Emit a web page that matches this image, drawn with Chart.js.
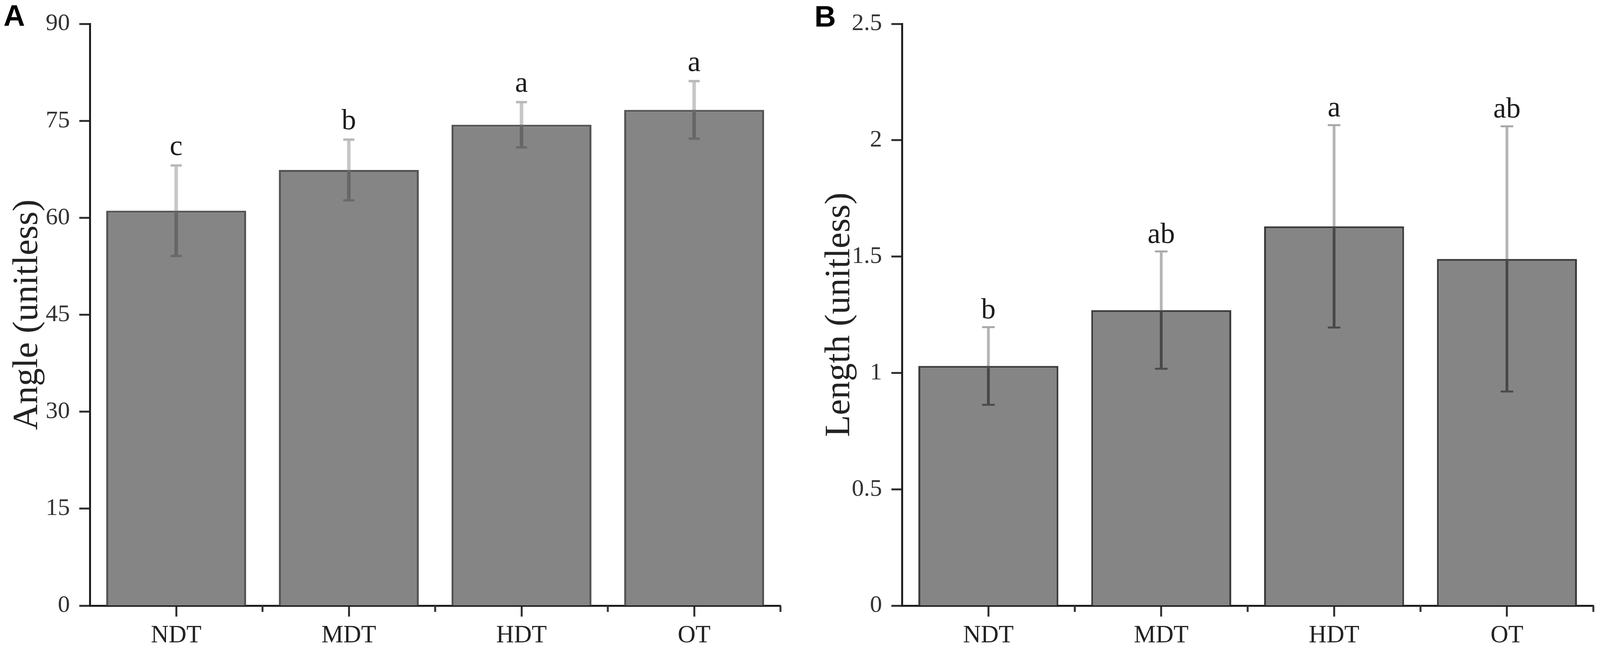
<!DOCTYPE html>
<html>
<head>
<meta charset="utf-8">
<script src="https://cdn.jsdelivr.net/npm/chart.js@4.4.1/dist/chart.umd.min.js"></script>
<style>
html,body{margin:0;padding:0;background:#fff;overflow:hidden}
canvas{position:absolute;top:0}
</style>
</head>
<body>
<canvas id="ca"></canvas>
<canvas id="cb"></canvas>
<script>
const categories = ['NDT', 'MDT', 'HDT', 'OT'];

const angleMeans   = [61.1, 67.4, 74.4, 76.7];
const angleErrors  = [7.0, 4.7, 3.5, 4.45];
const angleLetters = ['c', 'b', 'a', 'a'];
const angleTicks   = [0, 15, 30, 45, 60, 75, 90];

const lengthMeans   = [1.03, 1.27, 1.63, 1.49];
const lengthErrors  = [0.167, 0.252, 0.435, 0.57];
const lengthLetters = ['b', 'ab', 'a', 'ab'];
const lengthTicks   = [0, 0.5, 1, 1.5, 2, 2.5];

const SERIF = '"Liberation Serif", "Times New Roman", serif';

// layout designed for a 4317 px wide page, scaled to the actual viewport width
const W = Math.min(window.innerWidth || 4317, 4317);
const H = 1661;
const k = W / 4317;

const errorBarPlugin = {
  id: 'errbars',
  afterDatasetsDraw(chart, args, o) {
    const ctx = chart.ctx;
    const y = chart.scales.y;
    const meta = chart.getDatasetMeta(0);
    meta.data.forEach((bar, i) => {
      const m = o.means[i], e = o.errors[i];
      const x = bar.x;
      const yTop = y.getPixelForValue(m + e);
      const yBot = y.getPixelForValue(m - e);
      const yM = y.getPixelForValue(m);
      ctx.save();
      ctx.lineCap = 'butt';
      ctx.lineWidth = o.lw;
      ctx.strokeStyle = o.light;
      ctx.beginPath(); ctx.moveTo(x, yTop); ctx.lineTo(x, yM); ctx.stroke();
      ctx.strokeStyle = o.dark;
      ctx.beginPath(); ctx.moveTo(x, yM); ctx.lineTo(x, yBot); ctx.stroke();
      ctx.lineWidth = o.capLw;
      ctx.strokeStyle = o.lightCap;
      ctx.beginPath(); ctx.moveTo(x - o.cap / 2, yTop); ctx.lineTo(x + o.cap / 2, yTop); ctx.stroke();
      ctx.strokeStyle = o.darkCap;
      ctx.beginPath(); ctx.moveTo(x - o.cap / 2, yBot); ctx.lineTo(x + o.cap / 2, yBot); ctx.stroke();
      ctx.fillStyle = '#1c1c1c';
      ctx.font = '74px ' + SERIF;
      ctx.textAlign = 'center';
      ctx.textBaseline = 'alphabetic';
      ctx.fillText(o.letters[i], x, yTop - o.gap);
      ctx.restore();
    });
  }
};

const minorTickPlugin = {
  id: 'minorticks',
  afterDraw(chart) {
    const ctx = chart.ctx;
    const xs = chart.scales.x;
    const base = chart.chartArea.bottom;
    ctx.save();
    ctx.strokeStyle = '#333';
    ctx.lineWidth = 5;
    for (let i = 0; i < categories.length; i++) {
      const px = xs.getPixelForValue(i + 0.5);
      ctx.beginPath(); ctx.moveTo(px, base); ctx.lineTo(px, base + 16); ctx.stroke();
    }
    ctx.restore();
  }
};

const panelLabelPlugin = {
  id: 'panellabel',
  afterDraw(chart, args, o) {
    const ctx = chart.ctx;
    ctx.save();
    ctx.fillStyle = '#000';
    ctx.font = 'bold 76px "Liberation Sans", Arial, sans-serif';
    ctx.textAlign = 'left';
    ctx.textBaseline = 'alphabetic';
    ctx.fillText(o.text, o.x, o.y);
    ctx.restore();
  }
};

function makeChart(id, left, width, cfg) {
  const cv = document.getElementById(id);
  cv.width = width; cv.height = H;
  cv.style.left = left + 'px';
  cv.style.width = width + 'px'; cv.style.height = H + 'px';
  return new Chart(cv, {
    type: 'bar',
    data: {
      labels: categories,
      datasets: [{
        data: cfg.means,
        backgroundColor: '#858585',
        borderColor: cfg.barBorder,
        borderWidth: 5,
        borderSkipped: 'bottom',
        barPercentage: 0.81,
        categoryPercentage: 1.0
      }]
    },
    options: {
      responsive: false,
      animation: false,
      devicePixelRatio: 1,
      layout: { padding: { left: 0, top: 50, right: cfg.padRight, bottom: 0 } },
      plugins: {
        legend: { display: false },
        tooltip: { enabled: false },
        errbars: cfg.err,
        panellabel: cfg.panel
      },
      scales: {
        x: {
          offset: true,
          afterFit: s => { s.height = 111; },
          border: { display: true, color: '#1e1e1e', width: 5 },
          grid: { display: true, drawOnChartArea: false, offset: false, drawTicks: true, tickLength: 28, tickWidth: 5, tickColor: '#333' },
          ticks: { font: { family: SERIF, size: 63 }, color: '#222', padding: 12, maxRotation: 0, autoSkip: false }
        },
        y: {
          min: 0,
          max: cfg.max,
          afterBuildTicks: s => { s.ticks = cfg.ticks.map(v => ({ value: v })); },
          afterFit: s => { s.width = Math.round(242 * k); },
          border: { display: true, color: '#1e1e1e', width: 5 },
          grid: { display: true, drawOnChartArea: false, drawTicks: true, tickLength: 27, tickWidth: 5, tickColor: '#333' },
          ticks: { font: { family: SERIF, size: 62 }, color: '#333', padding: 24, callback: v => String(v) },
          title: { display: true, text: cfg.title, color: '#222', font: { family: SERIF, size: 92, lineHeight: 1.2 }, padding: { top: Math.round(75 * k - 55), bottom: 0 } }
        }
      }
    },
    plugins: [errorBarPlugin, minorTickPlugin, panelLabelPlugin]
  });
}

const leftB = Math.round(2191 * k);

makeChart('ca', 0, leftB, {
  means: angleMeans,
  max: 90,
  ticks: angleTicks,
  title: 'Angle (unitless)',
  padRight: Math.round(85 * k),
  barBorder: '#555555',
  err: { means: angleMeans, errors: angleErrors, letters: angleLetters, lw: 9, light: '#c6c6c6', dark: '#666666', lightCap: '#b8b8b8', darkCap: '#6a6a6a', cap: 30 * k, capLw: 6, gap: 26 },
  panel: { text: 'A', x: Math.round(10 * k), y: 66 }
});

makeChart('cb', leftB, W - leftB, {
  means: lengthMeans,
  max: 2.5,
  ticks: lengthTicks,
  title: 'Length (unitless)',
  padRight: Math.round(18 * k),
  barBorder: '#3c3c3c',
  err: { means: lengthMeans, errors: lengthErrors, letters: lengthLetters, lw: 7, light: '#b4b4b4', dark: '#474747', lightCap: '#a8a8a8', darkCap: '#4a4a4a', cap: 34 * k, capLw: 5, gap: 22 },
  panel: { text: 'B', x: Math.round(6 * k), y: 68 }
});
</script>
</body>
</html>
